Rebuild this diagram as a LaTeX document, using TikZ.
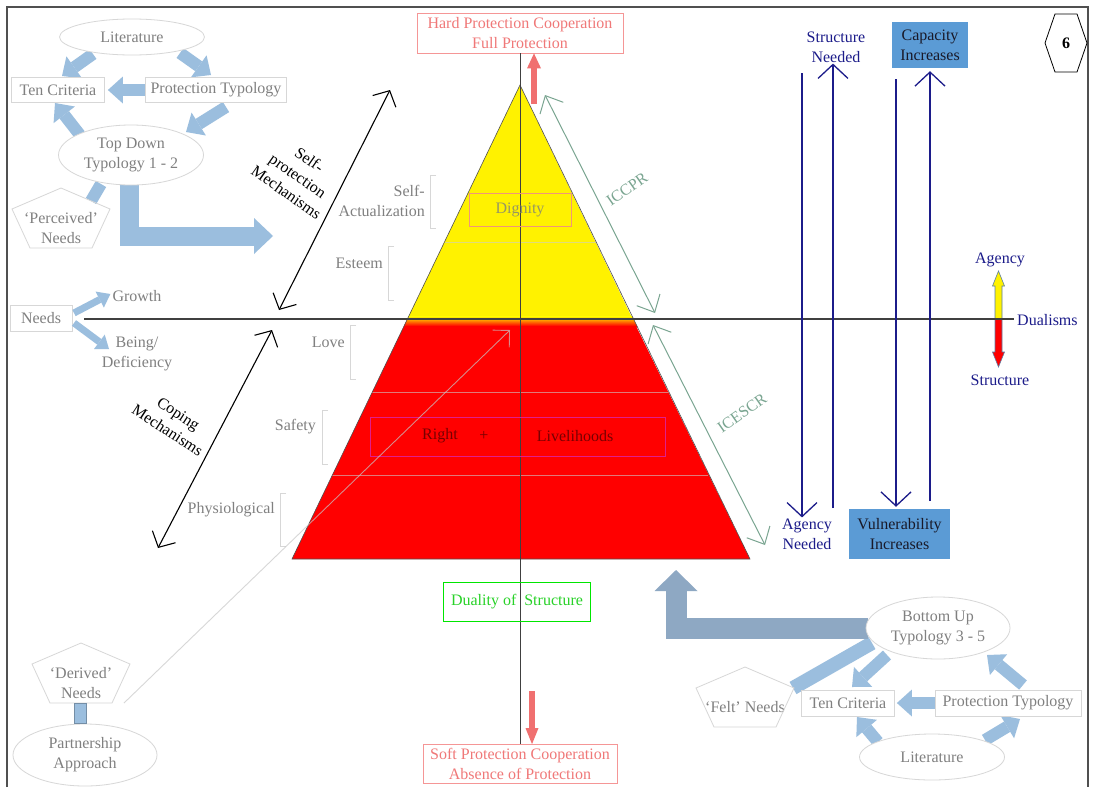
\documentclass[tikz,border=0pt]{standalone}
\usepackage{fontspec}
\setmainfont{Liberation Serif}
\usetikzlibrary{arrows.meta,calc,shapes.geometric}
\pgfdeclarelayer{back}
\pgfsetlayers{back,main}
\definecolor{lb}{RGB}{155,190,222}
\definecolor{lbd}{RGB}{142,168,195}
\definecolor{gtext}{RGB}{128,128,128}
\definecolor{gline}{RGB}{215,215,215}
\definecolor{navy}{RGB}{28,28,138}
\definecolor{salmont}{RGB}{240,120,120}
\definecolor{salmonb}{RGB}{245,150,150}
\definecolor{salmonf}{RGB}{240,112,112}
\definecolor{gg}{RGB}{122,165,145}
\definecolor{bfill}{RGB}{91,155,213}
\definecolor{framec}{RGB}{80,80,80}
\definecolor{digb}{RGB}{240,150,120}
\definecolor{digt}{RGB}{150,150,100}
\definecolor{rlb}{RGB}{225,30,140}
\definecolor{rlt}{RGB}{120,0,0}
\definecolor{dualb}{RGB}{0,230,0}
\definecolor{dualt}{RGB}{40,210,40}
\definecolor{capt}{RGB}{25,25,40}
\definecolor{stblue}{RGB}{90,125,165}
\newcommand\pentat[1]{\draw[gline,line width=0.8pt] ($(#1)+(0,-40)$) -- ($(#1)+(49,-19)$) -- ($(#1)+(31,20)$) -- ($(#1)+(-31,20)$) -- ($(#1)+(-49,-19)$) -- cycle;}
\begin{document}
\begin{tikzpicture}[x=1pt,y=-1pt,
  font=\fontsize{16}{20}\selectfont,
  every node/.style={inner sep=1pt},
  lbl/.style={text=gtext, align=center},
  gbox/.style={draw=gline, line width=0.8pt, fill=white, text=gtext, rectangle, minimum width=#1, minimum height=25, inner sep=0pt},
  gell/.style 2 args={draw=gline, line width=0.8pt, fill=white, text=gtext, ellipse, minimum width=#1, minimum height=#2, inner sep=0pt, align=center},
  blk/.style={line width=12pt, lb, -{Triangle[length=15pt,width=27pt,line width=0pt]}},
  thinblk/.style={line width=7pt, lb, -{Triangle[length=12pt,width=18pt,line width=0pt]}},
  bar/.style={line width=12pt, lb},
  brk/.style={gline, line width=1pt},
  dbl/.style={line width=1.1pt, {Straight Barb[length=12pt,width=26pt]}-{Straight Barb[length=12pt,width=26pt]}},
  gdbl/.style={gg, line width=1pt, {Straight Barb[length=14pt,width=26pt]}-{Straight Barb[length=14pt,width=26pt]}},
  nav/.style={navy, line width=1.3pt, -{Straight Barb[length=14pt,width=30pt]}}
]
\useasboundingbox (0,0) rectangle (1094,787);
\begin{pgfonlayer}{back}
\fill[white] (0,0) rectangle (1094,787);
\end{pgfonlayer}
\draw[framec, line width=1.6pt] (7,787) -- (7,7) -- (1088,7) -- (1088,787);

% ---------- pyramid ----------
\coordinate (apex) at (520,85);
\coordinate (bl) at (292,559);
\coordinate (br) at (750,559);
\fill[yellow] (apex) -- (407.4,319) -- (632.6,319) -- cycle;
\fill[red] (407.4,319) -- (bl) -- (br) -- (632.6,319) -- cycle;
\begin{scope}
  \clip (apex) -- (bl) -- (br) -- cycle;
  \shade[top color=yellow, middle color=orange, bottom color=red] (280,316) rectangle (760,326);
\end{scope}
\draw[white!60!gray, opacity=0.6, line width=1pt] (444.5,242) -- (595.5,242);
\draw[white!60!gray, opacity=0.6, line width=1pt] (372.3,392) -- (667.7,392);
\draw[white!60!gray, opacity=0.6, line width=1pt] (332.4,475) -- (707.6,475);
\draw[framec, line width=0.6pt] (apex) -- (bl) -- (br) -- cycle;

% ---------- top / bottom boxes ----------
\node[draw=salmonb, line width=0.8pt, text=salmont, minimum width=206, minimum height=40, align=center, inner sep=0pt] (hard) at (520,33) {Hard Protection Cooperation\\Full Protection};
\node[draw=salmonb, line width=0.8pt, text=salmont, minimum width=194, minimum height=39, align=center, inner sep=0pt] (soft) at (520,764) {Soft Protection Cooperation\\Absence of Protection};
\draw[black!75, line width=0.8pt] (hard.south) -- (soft.north);
\node[draw=dualb, line width=1pt, text=dualt, minimum width=147, minimum height=39] (dual) at (517,602) {Duality of\ \ Structure};
\coordinate (hu) at (534,104);
\coordinate (sd) at (532,691);
\draw[line width=6pt, salmonf, -{Triangle[length=15pt,width=14pt,line width=0pt]}] (hu) -- (hu |- hard.south);
\draw[line width=6pt, salmonf, -{Triangle[length=16pt,width=13pt,line width=0pt]}] (sd) -- (sd |- soft.north);

% ---------- horizontal axis ----------
\coordinate (axL) at (84,319);
\coordinate (axR) at (1014,319);
\filldraw[fill=yellow, draw=stblue, line width=0.6pt] (995,319) -- (995,286) -- (992.5,286) -- (998.5,271) -- (1004.5,286) -- (1002,286) -- (1002,319) -- cycle;
\filldraw[fill=red, draw=stblue, line width=0.6pt] (995,319) -- (995,352) -- (992.5,352) -- (998.5,367) -- (1004.5,352) -- (1002,352) -- (1002,319) -- cycle;
\draw[black!75, line width=1.5pt] (axL) -- (axR);
\node[text=navy, anchor=west] (dua) at (1016,320) {Dualisms};
\node[text=navy] (ag) at (1000,260) {Agency};
\node[text=navy] (st) at (1000,380) {Structure};

% ---------- pyramid content ----------
\node[draw=digb, line width=0.8pt, text=digt, minimum width=102, minimum height=33] (dig) at (520,209.5) {Dignity};
\node[draw=rlb, line width=0.8pt, minimum width=295, minimum height=39] (rl) at (517.5,436.5) {};
\node[text=rlt] (right) at (440,436) {Right};
\node[text=rlt] (plus) at (484,436) {+};
\node[text=rlt] (liv) at (575,436) {Livelihoods};

\node[lbl, anchor=east, align=right] (sa) at (426,201) {Self-\\Actualization};
\draw[brk] ($(sa.east)+(10,-26)$) -- ++(-6,0) -- ++(0,53) -- ++(6,0);
\node[lbl, anchor=east] (est) at (384,263) {Esteem};
\draw[brk] ($(est.east)+(10,-17)$) -- ++(-6,0) -- ++(0,54) -- ++(6,0);
\node[lbl, anchor=east] (love) at (346,342) {Love};
\draw[brk] ($(love.east)+(10,-17)$) -- ++(-6,0) -- ++(0,54) -- ++(6,0);
\node[lbl, anchor=east] (saf) at (317,427) {Safety};
\draw[brk] ($(saf.east)+(11,-17)$) -- ++(-6,0) -- ++(0,54) -- ++(6,0);
\node[lbl, anchor=east] (phy) at (276,510) {Physiological};
\draw[brk] ($(phy.east)+(10,-17)$) -- ++(-6,0) -- ++(0,53) -- ++(6,0);

% ---------- mechanism arrows ----------
\coordinate (spA) at (390,90);
\coordinate (spB) at (279,310);
\draw[dbl] (spA) -- (spB);
\node[align=center, rotate=-35] (sp) at (298,176) {Self-\\protection\\Mechanisms};
\coordinate (cmA) at (272,330);
\coordinate (cmB) at (158,548);
\draw[dbl] (cmA) -- (cmB);
\node[align=center, rotate=-33] (cm) at (173,422) {Coping\\Mechanisms};

\coordinate (icA) at (545,95);
\coordinate (icB) at (655,313);
\draw[gdbl] (icA) -- (icB);
\node[text=gg, rotate=35] (iccpr) at (627,189) {ICCPR};
\coordinate (ieA) at (653,325);
\coordinate (ieB) at (765,545);
\draw[gdbl] (ieA) -- (ieB);
\node[text=gg, rotate=35] (icescr) at (742,413) {ICESCR};

% ---------- top-left cluster ----------
\node[gell={145}{36}] (lit1) at (132,37) {Literature};
\node[gbox=93] (tc1) at (58,90) {Ten Criteria};
\node[gbox=141] (pt1) at (216,90) {Protection Typology};
\node[gell={145}{60}] (td) at (131,155) {Top Down\\Typology 1 - 2};
\node[lbl] (pn) at (61,228) {‘Perceived’\\Needs};
\pentat{pn}
\coordinate (tdend) at (273,236);
\begin{pgfonlayer}{back}
\draw[blk] ($(lit1)+(-39,17)$) -- ($(tc1)+(4,-14)$);
\draw[blk] ($(lit1)+(48,16)$) -- ($(pt1)+(-5,-15)$);
\draw[blk] (pt1.west) -- ($(tc1.east)+(3,0)$);
\draw[blk] ($(pt1)+(10,17)$) -- ($(td)+(55,-23)$);
\draw[blk] ($(td)+(-51,-20)$) -- ($(tc1)+(-3,13)$);
\draw[bar] ($(td)+(-30,29)$) -- ($(pn)+(30,-27)$);
\draw[lb, line width=19pt, -{Triangle[length=19pt,width=36pt,line width=0pt]}] ($(td.south)+(-2,-2)$) |- (tdend);
\end{pgfonlayer}

% ---------- needs ----------
\node[gbox=62, minimum height=26] (needs) at (41,318) {Needs};
\node[lbl] (growth) at (137,296) {Growth};
\node[lbl] (being) at (137,354) {Being/\\Deficiency};
\draw[thinblk] ($(needs)+(33,-5)$) -- ($(growth.west)+(-1,-2)$);
\draw[thinblk] ($(needs)+(33,5)$) -- ($(being)+(-28,-5)$);

% ---------- derived / partnership ----------
\node[lbl] (dn) at (81,683) {‘Derived’\\Needs};
\pentat{dn}
\node[gell={144}{62}] (pa) at (85,755) {Partnership\\Approach};
\draw[fill=lb, draw=lb!75!black, line width=0.5pt] ($(dn)+(-7,20)$) rectangle ($(pa.north)+(1,0)$);
\coordinate (pyin) at (510,330);
\draw[black!22, opacity=0.7, line width=0.9pt, -{Straight Barb[length=12pt,width=24pt]}] ($(dn)+(43,20)$) -- (pyin);

% ---------- right side ----------
\node[text=navy, align=center] (sn) at (836,47) {Structure\\Needed};
\node[fill=bfill, minimum width=76, minimum height=46, align=center, text=capt, inner sep=0pt] (cap) at (930,45) {Capacity\\Increases};
\node[text=navy, align=center] (an) at (807,534) {Agency\\Needed};
\node[fill=bfill, minimum width=101, minimum height=50, align=center, text=capt, inner sep=0pt] (vul) at (899.5,534) {Vulnerability\\Increases};
\node[font=\fontsize{16}{20}\selectfont\bfseries] (hex) at (1066,43) {6};
\draw[line width=0.8pt] ($(hex)+(-21,0)$) -- ($(hex)+(-11,-29)$) -- ($(hex)+(11,-29)$) -- ($(hex)+(21,0)$) -- ($(hex)+(11,29)$) -- ($(hex)+(-11,29)$) -- cycle;

\coordinate (l1s) at (802,73);
\coordinate (l2s) at (833,508);
\coordinate (l3s) at (896,79);
\coordinate (l4s) at (930,501);
\draw[nav] (l1s) -- (l1s |- an.north);
\draw[nav] (l2s) -- (l2s |- sn.south);
\draw[nav] (l3s) -- ($(l3s |- vul.north)+(0,-2)$);
\draw[nav] (l4s) -- ($(cap.south)+(0,3)$);

% ---------- bottom-right cluster ----------
\node[gell={144}{62}] (bu) at (938,628) {Bottom Up\\Typology 3 - 5};
\node[gbox=93, minimum height=26] (tc2) at (848,703) {Ten Criteria};
\node[gbox=146, minimum height=26] (pt2) at (1008,703) {Protection Typology};
\node[gell={145}{46}] (lit2) at (932,757) {Literature};
\node[lbl] (fn) at (745,707) {‘Felt’ Needs};
\pentat{fn}
\coordinate (buend) at (676,570);
\begin{pgfonlayer}{back}
\draw[blk] ($(lit2)+(-54,-15)$) -- ($(tc2)+(9,14)$);
\draw[blk] ($(lit2)+(53,-17)$) -- ($(pt2)+(12,16)$);
\draw[blk] (pt2.west) -- ($(tc2.east)+(2,0)$);
\draw[blk] ($(pt2)+(15,-18)$) -- ($(bu)+(49,27)$);
\draw[blk] ($(bu)+(-51,27)$) -- ($(tc2)+(4,-16)$);
\draw[line width=14pt, lb] ($(fn)+(48,-19)$) -- ($(bu)+(-66,15)$);
\draw[lbd, line width=21pt, -{Triangle[length=21pt,width=43pt,line width=0pt]}] ($(bu.west)+(2,0)$) -| (buend);
\end{pgfonlayer}
\end{tikzpicture}
\end{document}
